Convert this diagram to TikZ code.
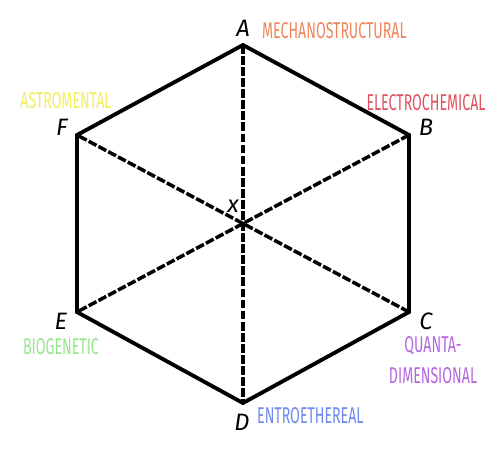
\documentclass[tikz,border=0pt]{standalone}
\usepackage{fontspec}
\setmainfont{Fira Sans}
\usepackage{tikz}
\usetikzlibrary{positioning,calc}
\definecolor{mechano}{HTML}{F0845A}
\definecolor{astro}{HTML}{F2EE5E}
\definecolor{electro}{HTML}{E0505E}
\definecolor{biogen}{HTML}{96E68C}
\definecolor{quanta}{HTML}{B366DE}
\definecolor{entro}{HTML}{6E88EE}

\begin{document}
\begin{tikzpicture}[x=0.02cm,y=-0.02cm,
    edge/.style={line width=2.2pt},
    diag/.style={line width=2pt,dash pattern=on 5pt off 1.3pt},
    vlabel/.style={font=\fontsize{13.5}{13.5}\selectfont\itshape,inner sep=0pt},
    realm/.style={font=\fontsize{13}{13}\selectfont,xscale=0.62,inner sep=0pt,align=center}]
  \useasboundingbox (0,0) rectangle (490,458);
  % corners of the hexagon
  \coordinate (A) at (243,45);
  \coordinate (B) at (409,135);
  \coordinate (C) at (409,312);
  \coordinate (D) at (243,403);
  \coordinate (E) at (77,312);
  \coordinate (F) at (77,135);
  \coordinate (X) at (243,224);
  \draw[edge] (A) -- (B) -- (C) -- (D) -- (E) -- (F) -- cycle;
  \foreach \p/\q in {A/D,B/E,C/F}{
    \draw[diag] (\p) -- (\q);}
  % vertex letters
  \foreach \n/\x/\y in {A/243/28,B/426/127,C/426/321,D/242/422,E/61/321,F/62/127,x/233/206}{
    \node[vlabel] (l\n) at (\x,\y) {\n};}
  % realm names
  \node[realm,text=mechano,anchor=west] (mechano) at (262,31) {MECHANOSTRUCTURAL};
  \node[realm,text=astro] (astro) at (66,101) {ASTROMENTAL};
  \node[realm,text=electro] (electro) at (426,103) {ELECTROCHEMICAL};
  \node[realm,text=biogen] (biogen) at (61,347) {BIOGENETIC};
  \node[realm,text=quanta] (quanta) at (433,360) {QUANTA-\\[5pt]DIMENSIONAL};
  \node[realm,text=entro,anchor=west] (entro) at (257,416) {ENTROETHEREAL};
\end{tikzpicture}
\end{document}
